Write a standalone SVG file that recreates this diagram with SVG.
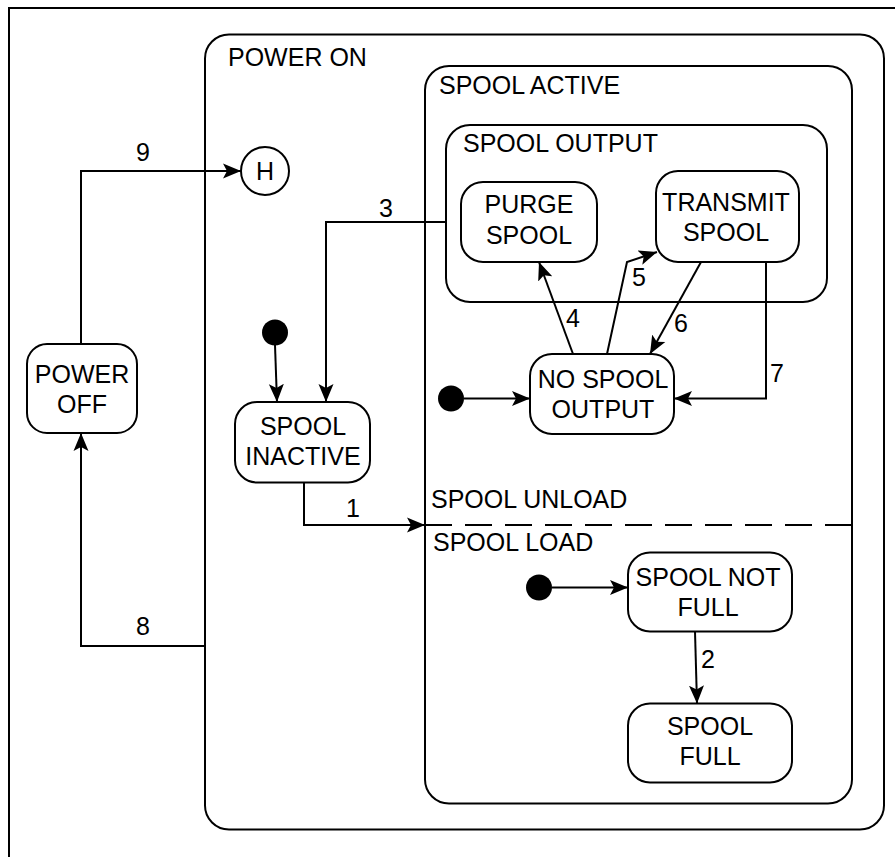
<svg xmlns="http://www.w3.org/2000/svg" width="895" height="857" viewBox="0 0 895 857">
  <style>
    .frame { fill: none; stroke: #000; stroke-width: 2; }
    .state { fill: #fff; stroke: #000; stroke-width: 2; }
    .region { fill: none; stroke: #000; stroke-width: 2; }
    .edge { fill: none; stroke: #000; stroke-width: 2; marker-end: url(#arrow); }
    .dash { fill: none; stroke: #000; stroke-width: 2; stroke-dasharray: 27 13; }
    .init { fill: #000; }
    text { font-family: "Liberation Sans", Arial, sans-serif; font-size: 25px; fill: #000; }
    .c { text-anchor: middle; }
  </style>
  <defs>
    <marker id="arrow" markerUnits="userSpaceOnUse" markerWidth="20" markerHeight="16" viewBox="-18 -8 20 16" refX="0" refY="0" orient="auto">
      <path d="M0,0 L-18,-7.5 L-14,0 L-18,7.5 Z" fill="#000"/>
    </marker>
  </defs>

  <rect width="895" height="857" fill="#fff"/>

  <!-- outer diagram frame -->
  <rect class="frame" x="9" y="8" width="900" height="900"/>

  <!-- composite states -->
  <g id="power-on">
    <rect class="region" x="205" y="34.5" width="679" height="795" rx="24"/>
    <text x="228" y="66">POWER ON</text>
  </g>
  <g id="spool-active">
    <rect class="region" x="425" y="66" width="427" height="737.5" rx="24"/>
    <text x="439" y="94">SPOOL ACTIVE</text>
    <line class="dash" x1="425" y1="525" x2="852" y2="525"/>
    <text x="431" y="508">SPOOL UNLOAD</text>
    <text x="433" y="551">SPOOL LOAD</text>
  </g>
  <g id="spool-output">
    <rect class="region" x="446" y="125" width="381" height="177" rx="24"/>
    <text x="463" y="152">SPOOL OUTPUT</text>
  </g>

  <!-- simple states -->
  <g id="power-off">
    <rect class="state" x="27" y="344" width="110" height="89" rx="20"/>
    <text class="c" x="82" y="383">POWER</text>
    <text class="c" x="82" y="413">OFF</text>
  </g>
  <g id="history">
    <circle class="state" cx="265" cy="171" r="24"/>
    <text class="c" x="265" y="180">H</text>
  </g>
  <g id="spool-inactive">
    <rect class="state" x="235" y="402" width="135" height="80.5" rx="22"/>
    <text class="c" x="303" y="435">SPOOL</text>
    <text class="c" x="303" y="465">INACTIVE</text>
  </g>
  <g id="purge-spool">
    <rect class="state" x="461" y="182" width="136" height="80" rx="22"/>
    <text class="c" x="529" y="213">PURGE</text>
    <text class="c" x="529" y="244">SPOOL</text>
  </g>
  <g id="transmit-spool">
    <rect class="state" x="656" y="171" width="143" height="91" rx="22"/>
    <text class="c" x="726" y="211">TRANSMIT</text>
    <text class="c" x="726" y="241">SPOOL</text>
  </g>
  <g id="no-spool-output">
    <rect class="state" x="530" y="354" width="144" height="80" rx="22"/>
    <text class="c" x="603" y="388">NO SPOOL</text>
    <text class="c" x="603" y="418">OUTPUT</text>
  </g>
  <g id="spool-not-full">
    <rect class="state" x="628" y="552.5" width="164" height="79" rx="22"/>
    <text class="c" x="708" y="586">SPOOL NOT</text>
    <text class="c" x="708" y="616">FULL</text>
  </g>
  <g id="spool-full">
    <rect class="state" x="628" y="703.5" width="164" height="79" rx="22"/>
    <text class="c" x="710" y="735">SPOOL</text>
    <text class="c" x="710" y="765">FULL</text>
  </g>

  <!-- initial pseudostates -->
  <g id="init-inactive"><circle class="init" cx="275" cy="332.5" r="13"/></g>
  <g id="init-output"><circle class="init" cx="451" cy="398.5" r="13"/></g>
  <g id="init-load"><circle class="init" cx="539" cy="587.5" r="13"/></g>

  <!-- transitions -->
  <g id="connectors">
    <polyline class="edge" points="81,344 81,171 241,171"/>
    <polyline class="edge" points="205,646 81,646 81,433"/>
    <polyline class="edge" points="446,222 326,222 326,402"/>
    <polyline class="edge" points="304,482 304,525 425,525"/>
    <line class="edge" x1="275" y1="345" x2="277" y2="402"/>
    <line class="edge" x1="464" y1="398.5" x2="530" y2="398.5"/>
    <line class="edge" x1="552" y1="587.5" x2="628" y2="587.5"/>
    <line class="edge" x1="573" y1="354" x2="539" y2="262"/>
    <polyline class="edge" points="607,354 627,262 657,252"/>
    <line class="edge" x1="701" y1="262" x2="650" y2="354"/>
    <polyline class="edge" points="766,262 766,398.5 674,398.5"/>
    <line class="edge" x1="695" y1="631.5" x2="697" y2="703.5"/>

    <text class="c" x="143" y="161">9</text>
    <text class="c" x="143" y="635">8</text>
    <text class="c" x="386" y="217">3</text>
    <text class="c" x="353" y="517">1</text>
    <text class="c" x="573" y="327">4</text>
    <text class="c" x="639" y="286">5</text>
    <text class="c" x="681" y="332">6</text>
    <text class="c" x="777" y="382">7</text>
    <text class="c" x="708" y="668">2</text>
  </g>
</svg>
